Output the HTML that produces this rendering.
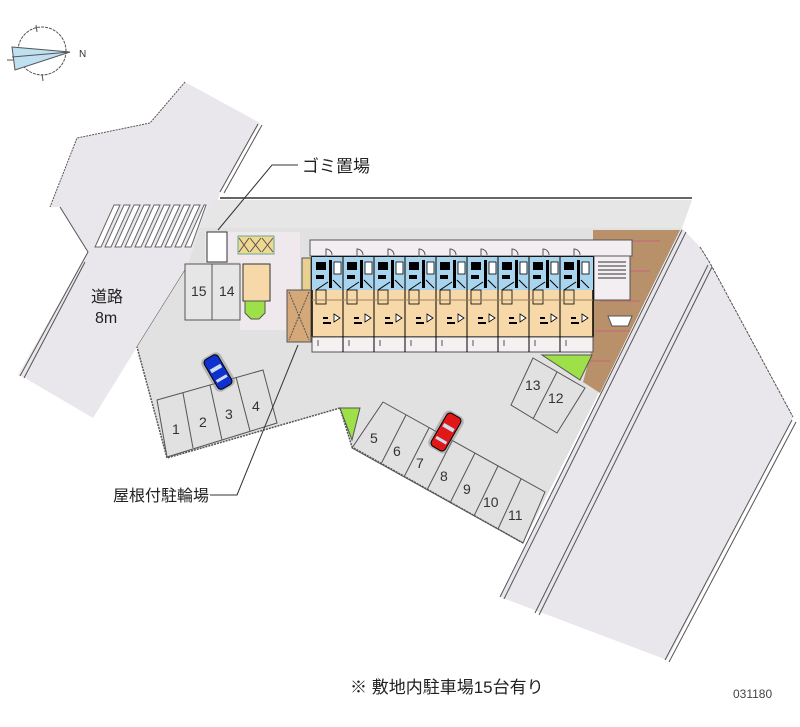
<!DOCTYPE html>
<html><head><meta charset="utf-8"><style>
html,body{margin:0;padding:0;background:#fff;}
svg{display:block;}
text{font-family:"Liberation Sans","Noto Sans CJK JP",sans-serif;}
</style></head><body>
<svg width="800" height="727" viewBox="0 0 800 727" xmlns="http://www.w3.org/2000/svg">
<!-- compass -->
<g stroke="#555" stroke-width="1" fill="none">
<circle cx="42" cy="51" r="24" stroke-dasharray="3,1"/>
<line x1="36" y1="25" x2="37" y2="32"/><line x1="42" y1="74" x2="43" y2="81"/>
<line x1="7" y1="60" x2="16" y2="60"/>
<polygon points="12,47 70,52 15,70" fill="#bfe0f0"/>
<line x1="12" y1="57" x2="70" y2="52"/>
</g>
<text x="79" y="57" font-size="10" fill="#333">N</text>
<!-- top-left road -->
<polygon points="185,82 150,123 77,138 50,207 60,207 88,252 18,375 25,378 93,418 137,347 187,267 213,220 220,192 260,123" fill="#eae7ec"/>
<g stroke="#555" fill="none" stroke-width="1">
<polyline points="185,82 150,123 77,138 50,207" stroke-dasharray="2,1"/>
<polyline points="60,207 88,252 20,376"/>
<line x1="24" y1="378" x2="85" y2="262"/>
<line x1="220" y1="192" x2="258" y2="124"/><line x1="224" y1="193" x2="262" y2="125"/>
<line x1="137" y1="347" x2="187" y2="267"/>
</g>
<!-- crosswalk -->
<g stroke="#666" stroke-width="1" fill="#fff">
<polygon points="114,205 120,205 101,247 95,247"/><polygon points="124,205 130,205 111,247 105,247"/>
<polygon points="134,205 140,205 121,247 115,247"/><polygon points="144,205 150,205 131,247 125,247"/>
<polygon points="154,205 160,205 141,247 135,247"/><polygon points="164,205 170,205 151,247 145,247"/>
<polygon points="174,205 180,205 161,247 155,247"/><polygon points="184,205 190,205 171,247 165,247"/>
<polygon points="194,205 200,205 181,247 175,247"/><polygon points="204,205 206,205 191,247 185,247"/>
</g>
<text x="91" y="302" font-size="16" fill="#222">道路</text>
<text x="95" y="323" font-size="16" fill="#222">8m</text>
<!-- sidewalk strip -->
<polygon points="213,200 692,200 682,228 200,228" fill="#e6e6e6"/>
<line x1="220" y1="198" x2="692" y2="198" stroke="#666" stroke-width="2"/>
<!-- right road -->
<polygon points="682,228 700,247 710,263 793,417 667,660 500,597" fill="#eae7ec"/>
<g stroke="#555" fill="none">
<line x1="682" y1="230" x2="500" y2="597"/><line x1="686" y1="232" x2="504" y2="599"/>
<line x1="708" y1="265" x2="535" y2="613"/><line x1="712" y1="267" x2="539" y2="615"/>
<line x1="792" y1="420" x2="665" y2="660"/><line x1="796" y1="422" x2="669" y2="662"/>
<polyline points="700,247 710,263 793,417" stroke-dasharray="3,1"/>
</g>
<!-- lot -->
<polygon points="200,228 682,228 523,543 352,447 340,408 167,458 137,347 187,267" fill="#e1e1e1"/>
<g stroke="#555" fill="none">
<polyline points="523,543 352,447 340,408 167,458 137,347" stroke-dasharray="2,1" stroke-width="1.5"/>
</g>
<polygon points="205,232 300,232 300,330 240,330 240,262 205,262" fill="#efe8ec"/>
<!-- brown dotted area -->
<polygon points="593,230 680,230 600,393 583,382 593,345" fill="#b8906a"/>
<g fill="#c86a7a" opacity="0.6">
<rect x="600" y="240" width="60" height="2"/><rect x="600" y="270" width="50" height="2"/><rect x="600" y="300" width="40" height="2"/><rect x="595" y="330" width="35" height="2"/><rect x="590" y="360" width="20" height="2"/>
</g>
<!-- corridor -->
<rect x="310" y="240" width="322" height="16" fill="#f3eef1" stroke="#555"/>
<rect x="594" y="256" width="36" height="44" fill="#f3eef1" stroke="#555"/>
<g stroke="#333">
<line x1="598" y1="262" x2="626" y2="262"/><line x1="598" y1="266" x2="626" y2="266"/><line x1="598" y1="270" x2="626" y2="270"/><line x1="598" y1="274" x2="626" y2="274"/><line x1="598" y1="278" x2="626" y2="278"/>
</g>
<polygon points="608,316 632,316 628,326 612,326" fill="#fff" stroke="#555"/>
<!-- building units -->
<rect x="312" y="257" width="281" height="80" fill="#f7d8a8" stroke="#000" stroke-width="1.5"/>
<rect x="312" y="257" width="281" height="33" fill="#a9d4ee"/>
<rect x="312" y="337" width="281" height="15" fill="#f5f0f2" stroke="#555"/>
<g stroke="#000" fill="none" stroke-width="1">
<line x1="343" y1="257" x2="343" y2="352"/><line x1="374" y1="257" x2="374" y2="352"/><line x1="405" y1="257" x2="405" y2="352"/>
<line x1="436" y1="257" x2="436" y2="352"/><line x1="467" y1="257" x2="467" y2="352"/><line x1="498" y1="257" x2="498" y2="352"/>
<line x1="529" y1="257" x2="529" y2="352"/><line x1="560" y1="257" x2="560" y2="352"/>
</g>
<g id="u">
<rect x="316" y="262" width="10" height="8" fill="#000"/>
<rect x="316" y="275" width="8" height="4" fill="#000"/>
<rect x="329" y="260" width="3" height="28" fill="#000"/>
<rect x="334" y="262" width="7" height="12" fill="#fff" stroke="#000" stroke-width="0.8"/>
<path d="M316 290 l12 -8 M333 280 l8 8" stroke="#000" fill="none"/>
<rect x="316" y="290" width="10" height="14" fill="none" stroke="#000" stroke-width="0.8"/>
<rect x="323" y="322" width="8" height="2" fill="#000"/>
<rect x="323" y="317" width="5" height="2" fill="#000"/>
<path d="M334 314 l6 4 l-6 4z" fill="#fff" stroke="#000" stroke-width="0.8"/>
<path d="M326 257 v-8 a6 6 0 0 1 6 6" stroke="#555" fill="none"/>
<line x1="318" y1="340" x2="318" y2="346" stroke="#555"/>
</g>
<use href="#u" x="31"/><use href="#u" x="62"/><use href="#u" x="93"/><use href="#u" x="124"/><use href="#u" x="155"/><use href="#u" x="186"/><use href="#u" x="217"/><use href="#u" x="248"/>
<line x1="312" y1="300" x2="593" y2="300" stroke="#a08060"/>
<!-- left facilities -->
<rect x="302" y="258" width="9" height="32" fill="#e8d090" stroke="#555"/>
<rect x="287" y="290" width="24" height="52" fill="#d4a878" stroke="#555"/>
<path d="M289 292 L309 340 M309 292 L289 340" stroke="#555" stroke-dasharray="2,1"/>
<rect x="238" y="236" width="36" height="18" fill="#f0d890" stroke="#6a9"/>
<path d="M239 238 l10 14 m0 -14 l-10 14 M250 238 l11 14 m0 -14 l-11 14 M262 238 l11 14 m0 -14 l-11 14" stroke="#555"/>
<rect x="207" y="232" width="20" height="30" fill="#fff" stroke="#333"/>
<rect x="243" y="264" width="27" height="37" fill="#f7d8a8" stroke="#333"/>
<path d="M245 301 h20 v12 l-6 6 h-8 l-6 -6z" fill="#9ee048" stroke="#555"/>
<rect x="185" y="264" width="55" height="56" fill="#e6e6e6" stroke="#555"/>
<line x1="212" y1="264" x2="212" y2="320" stroke="#555"/>
<text x="191" y="296" font-size="14" fill="#333">15</text>
<text x="219" y="296" font-size="14" fill="#333">14</text>
<!-- parking 1-4 -->
<g stroke="#555" fill="none">
<polygon points="157,400 263,370 277,423 167,457"/>
<line x1="183" y1="393" x2="193" y2="448"/><line x1="210" y1="385" x2="222" y2="440"/><line x1="236" y1="377" x2="250" y2="431"/>
</g>
<g font-size="14" fill="#333"><text x="172" y="434">1</text><text x="199" y="427">2</text><text x="225" y="419">3</text><text x="252" y="411">4</text></g>
<!-- parking 5-11 -->
<g stroke="#555" fill="none">
<polygon points="383,402 545,492 523,543 352,448"/>
<line x1="406" y1="415" x2="381" y2="464"/><line x1="429" y1="428" x2="404" y2="477"/><line x1="452" y1="441" x2="427" y2="490"/>
<line x1="475" y1="453" x2="450" y2="503"/><line x1="498" y1="466" x2="474" y2="516"/><line x1="521" y1="479" x2="498" y2="529"/>
</g>
<g font-size="14" fill="#333"><text x="370" y="443">5</text><text x="393" y="456">6</text><text x="416" y="468">7</text><text x="440" y="481">8</text><text x="463" y="494">9</text><text x="483" y="507">10</text><text x="508" y="520">11</text></g>
<!-- parking 12-13 -->
<g stroke="#555" fill="none">
<polygon points="533,358 585,388 557,433 511,405"/>
<line x1="557" y1="372" x2="533" y2="419"/>
</g>
<g font-size="14" fill="#333"><text x="525" y="390">13</text><text x="548" y="403">12</text></g>
<!-- green triangles -->
<polygon points="340,408 360,408 352,440" fill="#9ee048" stroke="#555"/>
<polygon points="542,355 592,355 580,380" fill="#9ee048" stroke="#555"/>
<!-- cars -->
<g transform="translate(218,372) rotate(-30)">
<rect x="-11" y="-19" width="22" height="38" rx="6" fill="#888" opacity="0.5"/>
<rect x="-8" y="-17" width="16" height="34" rx="4" fill="#1030d0" stroke="#000"/>
<rect x="-6" y="-6" width="12" height="4" fill="#cde"/><rect x="-6" y="6" width="12" height="3" fill="#cde"/>
</g>
<g transform="translate(446,432) rotate(30)">
<rect x="-11" y="-21" width="22" height="42" rx="6" fill="#888" opacity="0.5"/>
<rect x="-8" y="-19" width="16" height="38" rx="4" fill="#e01818" stroke="#000"/>
<rect x="-6" y="-7" width="12" height="4" fill="#cde"/><rect x="-6" y="8" width="12" height="3" fill="#cde"/>
</g>
<!-- labels -->
<polyline points="298,165 272,165 218,230" stroke="#333" fill="none"/>
<text x="302" y="172" font-size="17" fill="#222">ゴミ置場</text>
<polyline points="210,495 237,495 298,345" stroke="#333" fill="none"/>
<text x="113" y="501" font-size="16" fill="#222">屋根付駐輪場</text>
<text x="350" y="693" font-size="17" fill="#222">※ 敷地内駐車場15台有り</text>
<text x="733" y="698" font-size="12" fill="#444">031180</text>
</svg>
</body></html>
